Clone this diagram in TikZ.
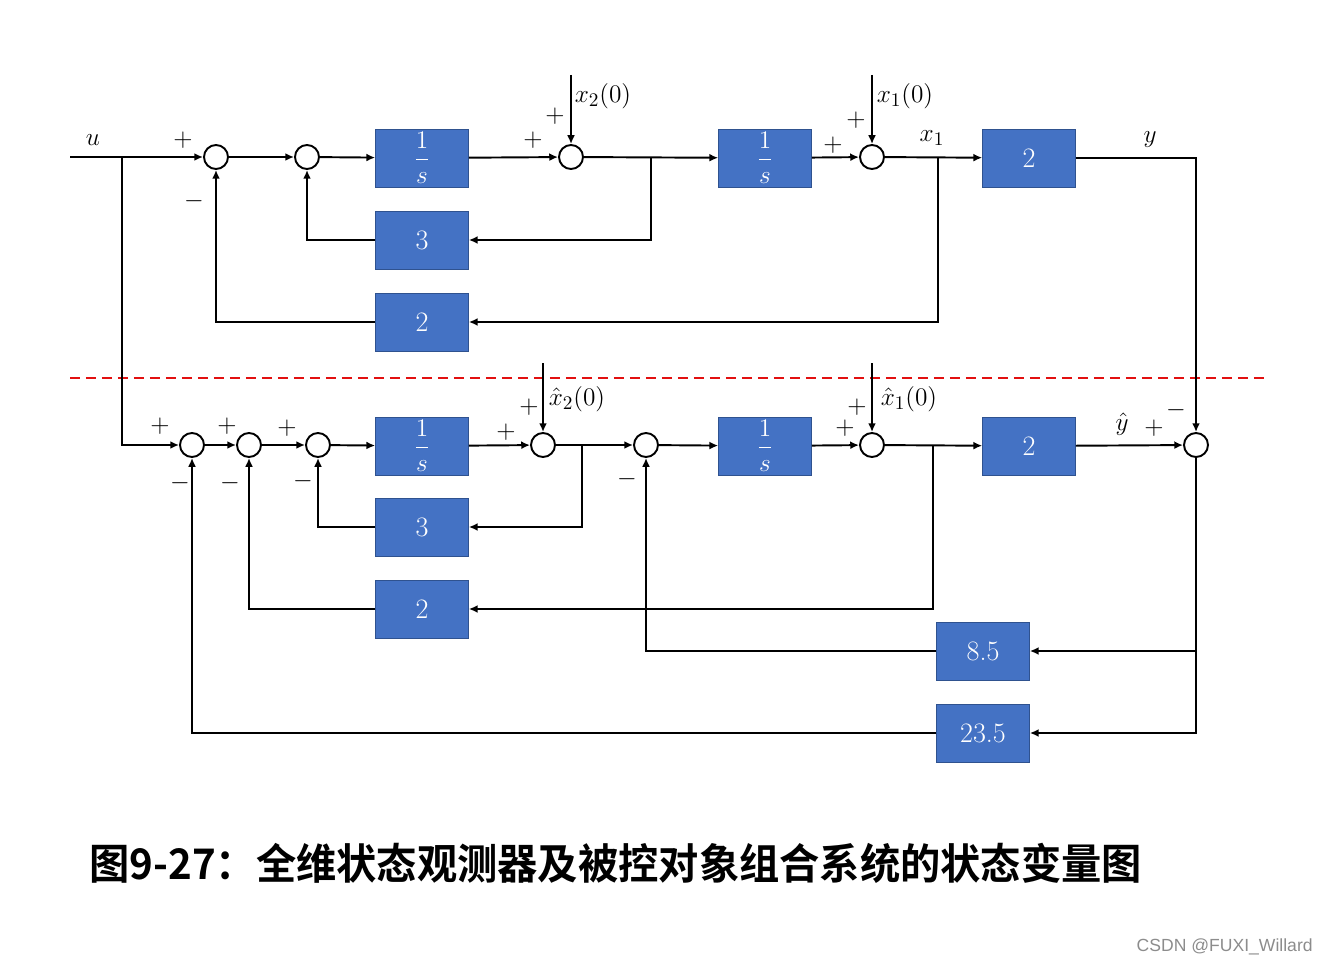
\documentclass[tikz,border=0pt]{standalone}
\usepackage{amsmath,amssymb}
\usepackage{graphicx}
\usepackage{fontspec}
\usepackage{xcolor}
\usepackage{tikz}
\usetikzlibrary{arrows.meta,positioning,calc}
\newfontfamily\cjk{Noto Sans CJK SC}[BoldFont={Noto Sans CJK SC Bold}]
\newfontfamily\wmfont{Liberation Sans}
\definecolor{blkblue}{RGB}{68,114,196}
\definecolor{blkedge}{RGB}{47,82,143}
\definecolor{sepred}{RGB}{226,16,16}
\newcommand{\invs}{{\fontsize{13.5}{16}\selectfont$\dfrac{1}{s}$}}
\tikzset{
  blk/.style={draw=blkedge, fill=blkblue, text=white, minimum width=1.86cm, minimum height=1.16cm, inner sep=0pt, font=\fontsize{16}{19}\selectfont},
  sumc/.style={draw, line width=1.1pt, circle, minimum size=0.48cm, inner sep=0pt},
  arr/.style={-{Latex[length=5pt,width=4.5pt]}, line width=1.1pt},
  lbl/.style={inner sep=1pt, font=\fontsize{15}{18}\selectfont},
  sepline/.style={sepred, line width=1.3pt, dash pattern=on 0.2cm off 0.12cm},
}

\begin{document}
\begin{tikzpicture}[x=0.02cm, y=-0.02cm]
  \useasboundingbox (0,0) rectangle (1328,966);
  % plant (upper half)
  \node[sumc] (s1) at (216,157) {};
  \node[sumc] (s2) at (307,157) {};
  \node[blk] (i1) at (422,158) {\invs};
  \node[sumc] (s3) at (571,157) {};
  \node[blk] (i2) at (765,158) {\invs};
  \node[sumc] (s4) at (872,157) {};
  \node[blk] (c1) at (1029,158) {2};
  \node[blk] (k3) at (422,240) {3};
  \node[blk] (k2) at (422,322) {2};
  \coordinate (uin) at (70,157);
  \coordinate (ub) at (122,157);
  \coordinate (b1) at (651,157);
  \coordinate (b2) at (938,157);
  \coordinate (x20) at (571,75);
  \coordinate (x10) at (872,75);
  \draw[arr] (uin) -- (s1);
  \draw[arr] (s1) -- (s2);
  \draw[arr] (s2) -- (i1);
  \draw[arr] (i1) -- (s3);
  \draw[arr] (s3) -- (i2);
  \draw[arr] (i2) -- (s4);
  \draw[arr] (s4) -- (c1);
  \draw[arr] (x20) -- (s3);
  \draw[arr] (x10) -- (s4);
  \draw[arr] (b1) |- (k3);
  \draw[arr] (k3) -| (s2);
  \draw[arr] (b2) |- (k2);
  \draw[arr] (k2) -| (s1);
  \node[lbl] (lu) at (93,140) {$u$};
  \node[lbl] (p1) at (183,140) {$+$};
  \node[lbl] (m1) at (194,201) {$-$};
  \node[lbl] (p2) at (533,140) {$+$};
  \node[lbl] (p3) at (555,116) {$+$};
  \node[lbl] (lx20) at (603,96) {$x_2(0)$};
  \node[lbl] (p4) at (833,145) {$+$};
  \node[lbl] (p5) at (856,120) {$+$};
  \node[lbl] (lx10) at (905,96) {$x_1(0)$};
  \node[lbl] (lx1) at (932,138) {$x_1$};
  \node[lbl] (ly) at (1150,140) {$y$};
  % separator
  \coordinate (dl) at (70,378);
  \coordinate (dr) at (1265,378);
  \draw[sepline] (dl) -- (dr);
  % observer (lower half)
  \node[sumc] (sA) at (192,445) {};
  \node[sumc] (sB) at (249,445) {};
  \node[sumc] (sC) at (318,445) {};
  \node[blk] (j1) at (422,446) {\invs};
  \node[sumc] (sD) at (543,445) {};
  \node[sumc] (sE) at (646,445) {};
  \node[blk] (j2) at (765,446) {\invs};
  \node[sumc] (sF) at (872,445) {};
  \node[blk] (c2) at (1029,446) {2};
  \node[sumc] (sG) at (1196,445) {};
  \node[blk] (k3b) at (422,527) {3};
  \node[blk] (k2b) at (422,609) {2};
  \node[blk] (l1) at (983,651) {8.5};
  \node[blk] (l2) at (983,733) {23.5};
  \coordinate (b3) at (582,445);
  \coordinate (b4) at (933,445);
  \coordinate (xh20) at (543,363);
  \coordinate (xh10) at (872,363);
  \draw[arr] (ub) |- (sA);
  \draw[arr] (c1) -| (sG);
  \draw[arr] (sA) -- (sB);
  \draw[arr] (sB) -- (sC);
  \draw[arr] (sC) -- (j1);
  \draw[arr] (j1) -- (sD);
  \draw[arr] (sD) -- (sE);
  \draw[arr] (sE) -- (j2);
  \draw[arr] (j2) -- (sF);
  \draw[arr] (sF) -- (c2);
  \draw[arr] (c2) -- (sG);
  \draw[arr] (xh20) -- (sD);
  \draw[arr] (xh10) -- (sF);
  \draw[arr] (b3) |- (k3b);
  \draw[arr] (k3b) -| (sC);
  \draw[arr] (b4) |- (k2b);
  \draw[arr] (k2b) -| (sB);
  \draw[arr] (sG) |- (l1);
  \draw[arr] (sG) |- (l2);
  \draw[arr] (l1) -| (sE);
  \draw[arr] (l2) -| (sA);
  \node[lbl] (q1) at (160,426) {$+$};
  \node[lbl] (n1) at (180,483) {$-$};
  \node[lbl] (q2) at (227,426) {$+$};
  \node[lbl] (n2) at (230,483) {$-$};
  \node[lbl] (q3) at (287,428) {$+$};
  \node[lbl] (n3) at (303,481) {$-$};
  \node[lbl] (q4) at (506,432) {$+$};
  \node[lbl] (q5) at (529,407) {$+$};
  \node[lbl] (lxh20) at (577,399) {$\hat{x}_2(0)$};
  \node[lbl] (n4) at (627,479) {$-$};
  \node[lbl] (q6) at (845,428) {$+$};
  \node[lbl] (q7) at (857,407) {$+$};
  \node[lbl] (lxh10) at (909,399) {$\hat{x}_1(0)$};
  \node[lbl] (lyh) at (1122,424) {$\hat{y}$};
  \node[lbl] (q8) at (1154,428) {$+$};
  \node[lbl] (n5) at (1176,410) {$-$};
  % caption and mark
  \node[anchor=west, inner sep=0pt, font=\cjk\bfseries\fontsize{24}{28}\selectfont] (title) at (89,863) {\scalebox{0.955}[1]{图9-27：全维状态观测器及被控对象组合系统的状态变量图}};
  \node[anchor=east, inner sep=0pt, text=black!45, font=\wmfont\fontsize{10}{12}\selectfont] (mark) at (1313,947) {CSDN @FUXI\_Willard};
\end{tikzpicture}
\end{document}
